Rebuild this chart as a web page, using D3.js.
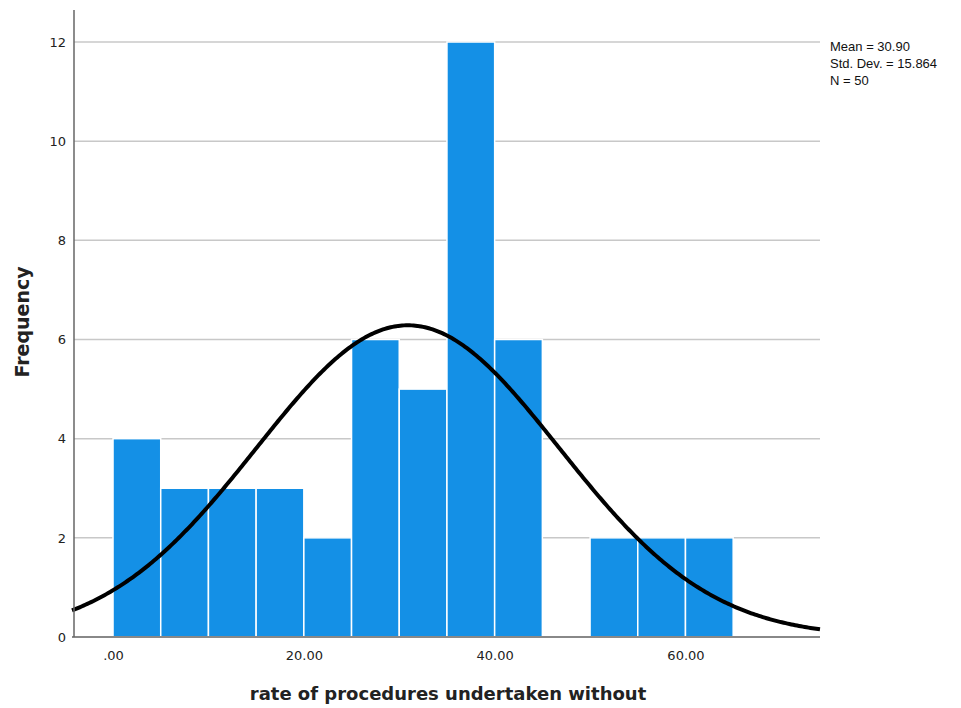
<!DOCTYPE html>
<html>
<head>
<meta charset="utf-8">
<script src="https://cdn.jsdelivr.net/npm/d3@7"></script>
<style>
  body { margin: 0; background: #fff; }
  text { font-family: "DejaVu Sans", sans-serif; }
</style>
</head>
<body>
<svg id="chart" width="961" height="708"></svg>
<script>
// histogram bins (lower edge, width 5) and counts
var binStarts = [0, 5, 10, 15, 20, 25, 30, 35, 40, 45, 50, 55, 60];
var counts = [4, 3, 3, 3, 2, 6, 5, 12, 6, 0, 2, 2, 2];
var binWidth = 5;
var xTicks = [0, 20, 40, 60];
var yTicks = [0, 2, 4, 6, 8, 10, 12];
var mean = 30.90, sd = 15.864, n = 50;
var statLines = ["Mean = 30.90", "Std. Dev. = 15.864", "N = 50"];

var svg = d3.select('#chart');
var plotLeft = 74, plotRight = 820, plotTop = 10, plotBottom = 637;

var x = d3.scaleLinear().domain([-4.3, 74.1]).range([plotLeft - 2, plotRight]);
var y = d3.scaleLinear().domain([0, 12]).range([plotBottom, 42]);

// gridlines
svg.append('g')
  .selectAll('line')
  .data(yTicks.slice(1))
  .enter().append('line')
  .attr('x1', plotLeft).attr('x2', plotRight)
  .attr('y1', d => y(d)).attr('y2', d => y(d))
  .attr('stroke', '#c8c8c8').attr('stroke-width', 1.5);

// bars
var bins = binStarts.map((b, i) => ({x0: b, x1: b + binWidth, c: counts[i]})).filter(d => d.c > 0);
svg.append('g')
  .selectAll('rect')
  .data(bins)
  .enter().append('rect')
  .attr('x', d => x(d.x0))
  .attr('width', d => x(d.x1) - x(d.x0))
  .attr('y', d => y(d.c))
  .attr('height', d => y(0) - y(d.c))
  .attr('fill', '#1490e6')
  .attr('stroke', '#ffffff')
  .attr('stroke-width', 1.5);

// normal curve from mean / sd / n
var pts = d3.range(x.domain()[0], x.domain()[1] + 0.01, 0.2).map(v => {
  var z = (v - mean) / sd;
  return [v, n * binWidth * Math.exp(-z * z / 2) / (sd * Math.sqrt(2 * Math.PI))];
});
svg.append('path')
  .datum(pts)
  .attr('d', d3.line().x(d => x(d[0])).y(d => y(d[1])))
  .attr('fill', 'none')
  .attr('stroke', '#000')
  .attr('stroke-width', 4);

// axes
var xAxis = svg.append('g')
  .attr('transform', `translate(0,${plotBottom})`)
  .call(d3.axisBottom(x).tickValues(xTicks).tickSize(0).tickPadding(14)
    .tickFormat(d => d === 0 ? '.00' : d3.format('.2f')(d)));
xAxis.select('.domain').attr('d', `M${plotLeft - 2},0H${plotRight}`).attr('stroke', '#888').attr('stroke-width', 2);
xAxis.selectAll('text').attr('font-size', 13).attr('fill', '#222');

var yAxis = svg.append('g')
  .attr('transform', `translate(${plotLeft},0)`)
  .call(d3.axisLeft(y).tickValues(yTicks).tickSize(0).tickPadding(8));
yAxis.select('.domain').attr('d', `M0,${plotTop}V${plotBottom}`).attr('stroke', '#666').attr('stroke-width', 1.5);
yAxis.selectAll('text').attr('font-size', 13).attr('fill', '#222');

// axis titles
svg.append('text')
  .attr('x', 448).attr('y', 700)
  .attr('text-anchor', 'middle')
  .attr('font-size', 18).attr('font-weight', 'bold').attr('fill', '#222')
  .text('rate of procedures undertaken without');

svg.append('text')
  .attr('transform', 'translate(29,322) rotate(-90)')
  .attr('text-anchor', 'middle')
  .attr('font-size', 19).attr('font-weight', 'bold').attr('fill', '#222')
  .text('Frequency');

// stats box
svg.append('g')
  .selectAll('text')
  .data(statLines)
  .enter().append('text')
  .attr('x', 830)
  .attr('y', (d, i) => 51 + i * 17)
  .attr('font-size', 13).attr('fill', '#111')
  .style('font-family', '"Liberation Sans", Arial, sans-serif')
  .text(d => d);
</script>
</body>
</html>
